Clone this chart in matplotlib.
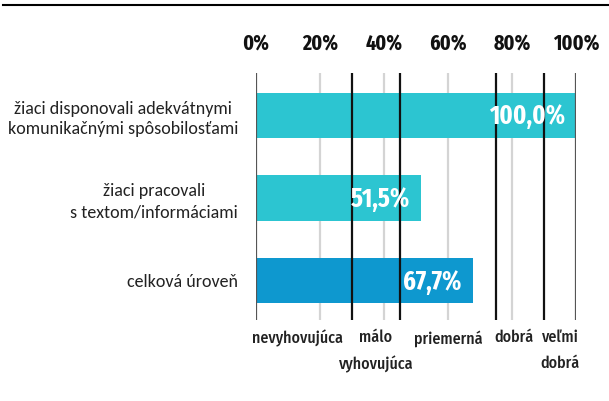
import matplotlib.pyplot as plt
from matplotlib.lines import Line2D

categories = ['žiaci disponovali adekvátnymi\nkomunikačnými spôsobilosťami',
              'žiaci pracovali\ns textom/informáciami',
              'celková úroveň']
values = [100.0, 51.5, 67.7]
bar_colors = ['#2cc5d1', '#2cc5d1', '#0e98cf']

grid_ticks = [0, 20, 40, 60, 80, 100]
thresholds = [30, 45, 75, 90]
grade_labels = ['nevyhovujúca', 'málo\nvyhovujúca', 'priemerná', 'dobrá', 'veľmi\ndobrá']
grade_pos = [13, 37.5, 60, 80.5, 95]

cond_bold = ['Fira Sans Extra Condensed', 'DejaVu Sans']
cond = ['Fira Sans Condensed', 'DejaVu Sans']
body = ['Carlito', 'DejaVu Sans']

fig = plt.figure(figsize=(6.09, 4.01), dpi=100)
ax = fig.add_axes([256 / 609, 0.202, 320 / 609, 0.616])

ypos = list(range(len(values)))
ax.barh(ypos, values, height=0.55, color=bar_colors, zorder=1)

for x in grid_ticks:
    if x in (0, 100):
        ax.axvline(x, color='#555555', lw=1.6, zorder=3)
    else:
        ax.axvline(x, color='#d4d4d4', lw=1.6, zorder=0)
for x in thresholds:
    ax.axvline(x, color='#111111', lw=1.6, zorder=3)

for y, v in zip(ypos, values):
    ax.annotate(f'{v:.1f}%'.replace('.', ','), xy=(v, y), xytext=(-8, -1),
                textcoords='offset points', ha='right', va='center',
                color='white', fontsize=19, fontweight='bold', family=cond_bold, zorder=4)

ax.set_xlim(0, 100)
ax.set_ylim(2.476, -0.512)
ax.xaxis.tick_top()
ax.set_xticks(grid_ticks)
ax.set_xticklabels([f'{t}%' for t in grid_ticks], fontsize=15.5, fontweight='bold',
                   family=cond_bold, color='#111111')
ax.tick_params(axis='x', length=0, pad=13)
ax.set_yticks(ypos)
ax.set_yticklabels(categories, fontsize=13, family=body, color='#222222',
                   linespacing=1.35, multialignment='center')
ax.tick_params(axis='y', length=0, pad=13)
for s in ax.spines.values():
    s.set_visible(False)

for x, lab in zip(grade_pos, grade_labels):
    ax.annotate(lab, xy=(x, 0), xycoords=('data', 'axes fraction'), xytext=(0, -7),
                textcoords='offset points', ha='center', va='top', fontsize=11.5,
                fontweight=500, family=cond, color='#222222', linespacing=1.75)

fig.add_artist(Line2D([3 / 609, 1], [1 - 5 / 401, 1 - 5 / 401], color='black', lw=1.5))

fig.savefig('out.png', dpi=100)
